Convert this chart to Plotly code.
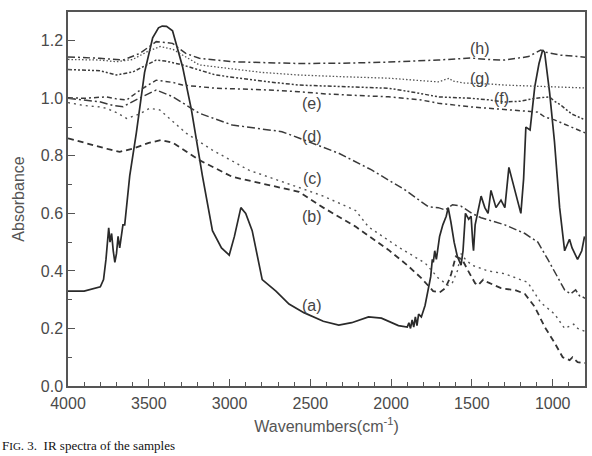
import plotly.graph_objects as go

# ---- data (wavenumber, absorbance) ----
a_wn = [4000, 3900, 3800, 3780, 3765, 3755, 3748, 3740, 3730, 3720, 3710, 3700, 3690, 3680, 3670, 3660,
        3649, 3618, 3577, 3526, 3476, 3440, 3417, 3390, 3353, 3291, 3236, 3168, 3106, 3050, 3002, 2970,
        2930, 2900, 2860, 2798, 2713, 2632, 2540, 2420, 2324, 2244, 2140, 2060, 1955, 1900, 1890, 1880,
        1870, 1860, 1850, 1840, 1830, 1813, 1790, 1770, 1755, 1745, 1739, 1730, 1720, 1700, 1680, 1659,
        1647, 1630, 1610, 1590, 1567, 1555, 1540, 1520, 1505, 1495, 1490, 1480, 1460, 1443, 1420, 1400,
        1382, 1351, 1320, 1296, 1271, 1234, 1197, 1180, 1166, 1140, 1111, 1085, 1062, 1050, 1040, 1019,
        989, 957, 926, 910, 896, 880, 865, 846, 820, 803]
a_val = [0.33, 0.33, 0.345, 0.37, 0.44, 0.50, 0.55, 0.50, 0.53, 0.47, 0.43, 0.46, 0.52, 0.48, 0.53, 0.56,
         0.56, 0.73, 0.88, 1.09, 1.21, 1.245, 1.251, 1.25, 1.235, 1.11, 0.96, 0.73, 0.54, 0.48, 0.455, 0.52,
         0.62, 0.60, 0.54, 0.37, 0.33, 0.285, 0.255, 0.225, 0.212, 0.22, 0.24, 0.236, 0.21, 0.205, 0.22, 0.20,
         0.23, 0.205, 0.24, 0.21, 0.25, 0.24, 0.28, 0.345, 0.38, 0.44, 0.43, 0.47, 0.44, 0.52, 0.56, 0.59,
         0.62, 0.57, 0.50, 0.45, 0.42, 0.47, 0.60, 0.58, 0.59, 0.50, 0.47, 0.56, 0.62, 0.66, 0.62, 0.60,
         0.68, 0.62, 0.646, 0.62, 0.76, 0.68, 0.60, 0.72, 0.90, 0.89, 1.04, 1.12, 1.168, 1.16, 1.12, 1.02,
         0.85, 0.62, 0.47, 0.49, 0.51, 0.48, 0.46, 0.44, 0.47, 0.52]

b_wn = [4000, 3900, 3803, 3750, 3680, 3600, 3500, 3423, 3350, 3187, 2983, 2775, 2571, 2420, 2220, 2016,
        1900, 1813, 1770, 1740, 1700, 1665, 1640, 1628, 1600, 1560, 1523, 1505, 1480, 1462, 1430, 1400,
        1360, 1320, 1259, 1234, 1172, 1111, 1049, 988, 938, 910, 895, 877, 860, 846, 815, 800]
b_val = [0.861, 0.845, 0.832, 0.823, 0.814, 0.825, 0.845, 0.855, 0.845, 0.785, 0.727, 0.70, 0.675, 0.62,
         0.554, 0.473, 0.42, 0.375, 0.35, 0.33, 0.325, 0.34, 0.37, 0.39, 0.45, 0.44, 0.40, 0.38, 0.357, 0.35,
         0.37, 0.36, 0.35, 0.34, 0.335, 0.334, 0.32, 0.275, 0.205, 0.15, 0.10, 0.095, 0.09, 0.10, 0.09,
         0.083, 0.08, 0.08]

c_wn = [4000, 3900, 3803, 3760, 3700, 3637, 3560, 3495, 3433, 3350, 3267, 3106, 2880, 2571, 2420, 2220,
        2140, 1955, 1789, 1708, 1647, 1620, 1590, 1567, 1540, 1500, 1443, 1400, 1296, 1197, 1154, 1074,
        988, 926, 889, 870, 845, 827, 800]
c_val = [0.985, 0.975, 0.97, 0.965, 0.95, 0.93, 0.945, 0.965, 0.96, 0.92, 0.878, 0.82, 0.75, 0.69, 0.66,
         0.61, 0.553, 0.483, 0.427, 0.375, 0.35, 0.36, 0.40, 0.46, 0.44, 0.42, 0.41, 0.40, 0.39, 0.37, 0.36,
         0.29, 0.25, 0.20, 0.21, 0.215, 0.20, 0.195, 0.19]

d_wn = [4000, 3900, 3803, 3720, 3659, 3560, 3454, 3350, 3187, 2983, 2676, 2571, 2490, 2324, 2121, 1912,
        1770, 1708, 1665, 1620, 1567, 1500, 1443, 1296, 1172, 1092, 1030, 970, 926, 889, 858, 830, 815, 800]
d_val = [1.0, 0.995, 0.988, 0.975, 0.971, 1.0, 1.029, 1.005, 0.948, 0.907, 0.884, 0.862, 0.845, 0.809,
         0.751, 0.681, 0.623, 0.62, 0.612, 0.63, 0.625, 0.60, 0.585, 0.56, 0.53, 0.50, 0.44, 0.38, 0.334,
         0.32, 0.334, 0.31, 0.31, 0.305]

e_wn = [4000, 3900, 3762, 3700, 3637, 3550, 3454, 3350, 3291, 3086, 2800, 2571, 2400, 2016, 1813, 1708,
        1505, 1296, 1200, 1092, 1049, 989, 926, 880, 840, 800]
e_val = [1.002, 1.0, 1.005, 0.998, 0.994, 1.03, 1.063, 1.055, 1.046, 1.035, 1.03, 1.023, 1.015, 1.005,
         0.994, 0.983, 0.97, 0.96, 0.955, 0.952, 0.935, 0.925, 0.91, 0.90, 0.89, 0.88]

f_wn = [4000, 3900, 3803, 3700, 3597, 3500, 3454, 3400, 3291, 3086, 2775, 2571, 2300, 2016, 1850, 1708,
        1505, 1400, 1296, 1200, 1111, 1050, 1020, 989, 950, 926, 880, 840, 800]
f_val = [1.10, 1.098, 1.096, 1.081, 1.092, 1.12, 1.133, 1.13, 1.116, 1.081, 1.058, 1.046, 1.04, 1.035,
         1.02, 1.005, 1.0, 0.995, 0.987, 0.99, 1.0, 1.005, 1.005, 0.99, 0.977, 0.965, 0.945, 0.935, 0.925]

g_wn = [4000, 3900, 3800, 3700, 3600, 3500, 3430, 3350, 3187, 2800, 2571, 2300, 2016, 1708, 1660, 1640,
        1620, 1543, 1400, 1296, 1100, 1000, 900, 800]
g_val = [1.135, 1.133, 1.133, 1.127, 1.135, 1.165, 1.18, 1.17, 1.116, 1.09, 1.081, 1.075, 1.07, 1.057,
         1.065, 1.07, 1.06, 1.053, 1.05, 1.046, 1.042, 1.04, 1.038, 1.036]

h_wn = [4000, 3900, 3803, 3659, 3556, 3454, 3353, 3271, 3187, 2983, 2571, 2300, 2016, 1708, 1505, 1400,
        1296, 1150, 1074, 1040, 950, 800]
h_val = [1.144, 1.142, 1.139, 1.133, 1.156, 1.197, 1.191, 1.156, 1.139, 1.127, 1.121, 1.122, 1.126, 1.133,
         1.14, 1.135, 1.133, 1.145, 1.168, 1.16, 1.15, 1.143]

labels = ["(a)", "(b)", "(c)", "(d)", "(e)", "(f)", "(g)", "(h)"]
label_wn = [2489, 2489, 2489, 2489, 2489, 1318, 1452, 1452]
label_val = [0.281, 0.588, 0.722, 0.866, 0.982, 1.0, 1.069, 1.174]

caption = "F<span style='font-size:11px'>IG</span>. 3.  IR spectra of the samples"

series = [
    (a_wn, a_val, "solid", 1.7, "#2a2a2a"),
    (b_wn, b_val, "6px,4px", 1.8, "#333333"),
    (c_wn, c_val, "2px,4px", 1.4, "#555555"),
    (d_wn, d_val, "8px,3px,2px,3px", 1.5, "#3a3a3a"),
    (e_wn, e_val, "5px,3px,2px,3px", 1.5, "#3a3a3a"),
    (f_wn, f_val, "4px,2px,2px,2px,2px,2px", 1.5, "#3a3a3a"),
    (g_wn, g_val, "1.5px,2px", 1.3, "#555555"),
    (h_wn, h_val, "7px,3px,2px,3px", 1.5, "#3a3a3a"),
]

fig = go.Figure()
for (xs, ys, dash, w, col), name in zip(series, labels):
    fig.add_trace(go.Scatter(x=xs, y=ys, mode="lines", name=name,
                             line=dict(color=col, width=w, dash=dash), showlegend=False))

for t, xw, yv in zip(labels, label_wn, label_val):
    fig.add_annotation(x=xw, y=yv, text=t, showarrow=False,
                       font=dict(family="Liberation Sans", size=16, color="#444444"))

fig.add_annotation(xref="paper", yref="paper", x=0, y=0, xshift=-68, yshift=-50,
                   xanchor="left", yanchor="top", showarrow=False, text=caption,
                   font=dict(family="Liberation Serif", size=13, color="#111111"))

tick_font = dict(family="Liberation Sans", size=16, color="#4a4a4a")
title_font = dict(family="Liberation Sans", size=16, color="#555555")
fig.update_xaxes(range=[4000, 800], dtick=500, tick0=0, ticks="inside", ticklen=7, tickwidth=1.3,
                 tickcolor="#555555", showline=True, linecolor="#555555", linewidth=1.5, mirror=True,
                 showgrid=False, zeroline=False, tickfont=tick_font, ticklabelstandoff=2,
                 minor=dict(dtick=100, ticks="inside", ticklen=4, tickcolor="#555555", tickwidth=1.2),
                 title=dict(text="Wavenumbers(cm<sup>-1</sup>)", font=title_font, standoff=10))
fig.update_yaxes(range=[0, 1.3], dtick=0.2, tick0=0, tickformat=".1f", ticks="inside", ticklen=7,
                 tickwidth=1.3, tickcolor="#555555", showline=True, linecolor="#555555", linewidth=1.5,
                 mirror=True, showgrid=False, zeroline=False, tickfont=tick_font,
                 minor=dict(dtick=0.1, ticks="inside", ticklen=4, tickcolor="#555555", tickwidth=1.2),
                 title=dict(text="Absorbance", font=title_font, standoff=12))

fig.update_layout(width=592, height=456, margin=dict(l=68, r=5, t=12, b=70),
                  paper_bgcolor="white", plot_bgcolor="white")
fig.write_html("out.html")
